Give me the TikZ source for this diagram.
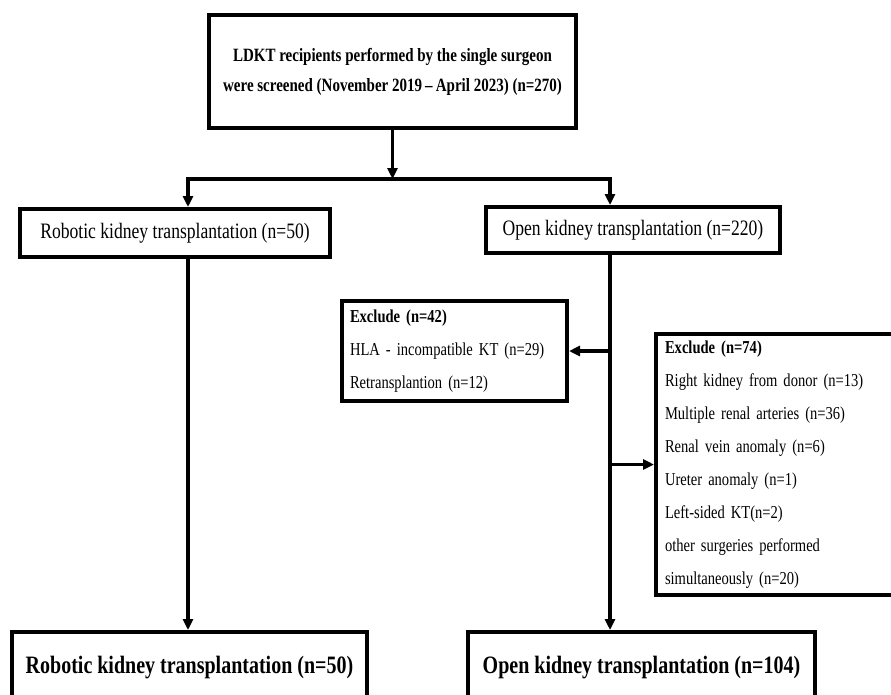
\documentclass[tikz,border=0pt]{standalone}
\usepackage{fontspec}
\setmainfont{Liberation Serif}[FakeStretch=0.8]
\usetikzlibrary{arrows.meta}

\begin{document}
\begin{tikzpicture}[x=1pt, y=-1pt,
        box/.style={draw, line width=4pt, inner sep=0pt, align=center},
        exclbox/.style={draw, line width=4pt, anchor=north west, align=left, inner xsep=8pt, inner ysep=0pt, font=\fontsize{18.2}{33}\selectfont},
        arr/.style={line width=3.2pt, -{Triangle[length=11pt, width=10pt]}}]
        \useasboundingbox (0,0) rectangle (891,694);

        % Draw screening box
        \node[box, minimum width=367pt, minimum height=113pt, font=\bfseries\fontsize{18.75}{30}\selectfont] (screen) at (392.5,71.5)
            {LDKT recipients performed by the single surgeon\\were screened (November 2019\,--\,April 2023) (n=270)};

        % Draw the two groups
        \node[box, minimum width=310pt, minimum height=48pt, font=\fontsize{22}{26}\selectfont] (robotic) at (175,233) {Robotic kidney transplantation (n=50)};
        \node[box, minimum width=294pt, minimum height=46pt, font=\fontsize{22}{26}\selectfont] (open) at (633,230) {Open kidney transplantation (n=220)};

        % Draw exclusion boxes
        \node[exclbox, text width=209pt, minimum height=100pt] (excl42) at (340,299)
            {\textbf{Exclude (n=42)}\\HLA - incompatible KT (n=29)\\Retransplantion (n=12)};
        \node[exclbox, inner xsep=9pt, text width=230pt, minimum height=261pt] (excl74) at (654,332)
            {\textbf{Exclude (n=74)}\\Right kidney from donor (n=13)\\Multiple renal arteries (n=36)\\Renal vein anomaly (n=6)\\Ureter anomaly (n=1)\\Left-sided KT(n=2)\\other surgeries performed\\simultaneously (n=20)};

        % Draw final groups
        \node[box, minimum width=355pt, minimum height=72pt, font=\bfseries\fontsize{25}{30}\selectfont] (robfinal) at (189.5,668) {Robotic kidney transplantation (n=50)};
        \node[box, minimum width=347pt, minimum height=72pt, font=\bfseries\fontsize{25}{30}\selectfont] (openfinal) at (641.5,668) {Open kidney transplantation (n=104)};

        % Draw connectors
        \coordinate (split) at (392.5,179);
        \coordinate (lft) at (188,179);
        \coordinate (rgt) at (610,179);
        \draw[arr] (screen.south) -- (split);
        \draw[arr] (split) -| (lft |- robotic.north);
        \draw[arr] (split) -| (rgt |- open.north);
        \draw[arr] (lft |- robotic.south) -- (lft |- robfinal.north);
        \draw[arr] (rgt |- open.south) -- (rgt |- openfinal.north);
        \draw[arr] (excl42.east -| rgt) -- (excl42.east);
        \draw[arr] (excl74.west -| rgt) -- (excl74.west);

    \end{tikzpicture}
\end{document}
